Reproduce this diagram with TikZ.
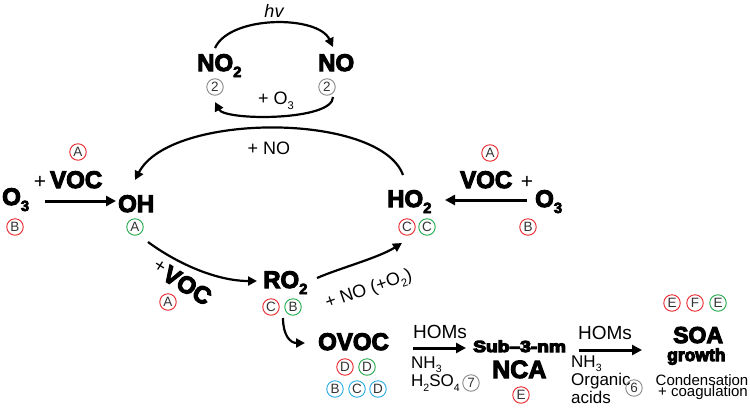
\documentclass[tikz,border=0pt]{standalone}
\usepackage{fontspec}
\usepackage{graphicx}
\setmainfont{Liberation Sans}
\newfontfamily\heavyf{Liberation Sans}
\usetikzlibrary{arrows.meta}
\definecolor{cred}{HTML}{E8262B}
\definecolor{cgreen}{HTML}{22A84A}
\definecolor{cblue}{HTML}{29ABE2}
\definecolor{cgray}{HTML}{8A8A8A}
\newcommand\sbs[1]{\raisebox{-0.25em}{\scalebox{0.62}{#1}}}
\newcommand\fat[1]{\special{pdf:literal direct 2 Tr 1.1 w}#1\special{pdf:literal direct 0 Tr}}
\begin{document}
\begin{tikzpicture}[x=1pt,y=1pt,
  heavy/.style={inner sep=0pt, anchor=base west, font=\heavyf\bfseries\fontsize{24}{24}\selectfont},
  light/.style={inner sep=0pt, font=\fontsize{17}{17}\selectfont},
  leftlight/.style={light, anchor=west},
  cc/.style={circle, draw=#1, line width=0.9pt, minimum size=16.5pt, inner sep=0pt, font=\fontsize{13.5}{13.5}\selectfont, text=black!80},
  arr/.style={line width=2.2pt, -{Triangle[length=9pt,width=9pt]}},
  thickarr/.style={line width=3pt, -{Triangle[length=10pt,width=10pt]}},
]
\useasboundingbox (0,0) rectangle (750,-408);

% NO2 / NO cycle
\node[light, font=\itshape\fontsize{18}{18}\selectfont] (hv) at (274,-11) {hv};
\node[heavy] (no2) at (197,-71) {\fat{NO\sbs{2}}};
\node[heavy] (no) at (318,-71) {\fat{NO}};
\node[cc=cgray] (c2a) at (215,-87) {2};
\node[cc=cgray] (c2b) at (327,-87) {2};
\node[light, font=\fontsize{18}{18}\selectfont] (plo3) at (276,-101) {+ O\sbs{3}};
\coordinate (t1s) at (215,-48);
\coordinate (t1e) at (333,-47);
\coordinate (b1s) at (333,-97);
\coordinate (b1e) at (215,-102);
\draw[arr] (t1s) .. controls (230,-15) and (318,-15) .. (t1e);
\draw[arr] (b1s) .. controls (333,-121) and (225,-121) .. (b1e);

% +NO big arc
\node[light, font=\fontsize{18}{18}\selectfont] (plno) at (269,-148) {+ NO};
\coordinate (bas) at (403,-175);
\coordinate (bae) at (135,-180);
\draw[arr] (bas) .. controls (380,-112) and (170,-112) .. (bae);

% left O3 + VOC -> OH
\node[heavy] (o3l) at (2,-205) {\fat{O\sbs{3}}};
\node[light, font=\fontsize{21}{21}\selectfont] (pl1) at (40,-182) {+};
\node[heavy] (voc1) at (50,-188) {\fat{VOC}};
\node[cc=cred] (cA1) at (78,-152) {A};
\node[cc=cred] (cB1) at (15,-227) {B};
\node[heavy] (oh) at (118,-212) {\fat{OH}};
\node[cc=cgreen] (cA2) at (135,-227) {A};
\coordinate (a1s) at (45,-201);
\coordinate (a1e) at (116,-201);
\draw[thickarr] (a1s) -- (a1e);

% right O3 + VOC -> HO2
\node[heavy] (ho2) at (387,-207) {\fat{HO\sbs{2}}};
\node[cc=cred] (cC1) at (407,-227) {C};
\node[cc=cgreen] (cC2) at (427,-227) {C};
\node[heavy] (voc2) at (460,-188) {\fat{VOC}};
\node[light, font=\fontsize{21}{21}\selectfont] (pl2) at (527,-182) {+};
\node[heavy] (o3r) at (535,-207) {\fat{O\sbs{3}}};
\node[cc=cred] (cA3) at (490,-153) {A};
\node[cc=cred] (cB2) at (528,-227) {B};
\coordinate (a2s) at (527,-200);
\coordinate (a2e) at (445,-200);
\draw[thickarr] (a2s) -- (a2e);

% OH -> RO2
\node[heavy] (ro2) at (263,-288) {\fat{RO\sbs{2}}};
\node[cc=cred] (cC3) at (271,-307) {C};
\node[cc=cgreen] (cB3) at (293,-307) {B};
\node[rotate=-32, inner sep=0pt] (pvoc) at (182,-282) {\raisebox{0.35em}{\fontsize{19}{19}\selectfont +}\,{\heavyf\bfseries\fontsize{24}{24}\selectfont \fat{VOC}}};
\node[cc=cred] (cA4) at (168,-302) {A};
\coordinate (a3s) at (148,-242);
\coordinate (a3e) at (257,-281);
\draw[arr] (a3s) .. controls (175,-262) and (215,-281) .. (a3e);

% RO2 -> HO2
\node[light, rotate=19, font=\fontsize{18}{18}\selectfont] (plno2) at (369,-290) {+ NO (+O\sbs{2})};
\coordinate (a4s) at (317,-278);
\coordinate (a4e) at (402,-243);
\draw[arr] (a4s) .. controls (340,-268) and (378,-258) .. (a4e);

% RO2 -> OVOC
\node[heavy] (ovoc) at (318,-350) {\fat{OVOC}};
\coordinate (a5s) at (283,-318);
\coordinate (a5e) at (305,-343);
\draw[arr] (a5s) .. controls (283,-335) and (290,-343) .. (a5e);
\node[cc=cred] (cD1) at (345,-367) {D};
\node[cc=cgreen] (cD2) at (367,-367) {D};
\node[cc=cblue] (cB4) at (335,-389) {B};
\node[cc=cblue] (cC4) at (357,-389) {C};
\node[cc=cblue] (cD3) at (378,-389) {D};

% OVOC -> NCA
\node[light, font=\fontsize{19}{19}\selectfont] (homs1) at (440,-332) {HOMs};
\node[leftlight] (nh31) at (411,-365) {NH\sbs{3}};
\node[leftlight] (h2so4) at (411,-383) {H\sbs{2}SO\sbs{4}};
\node[cc=cgray] (c7) at (471,-383) {7};
\coordinate (a6s) at (413,-348);
\coordinate (a6e) at (466,-348);
\draw[thickarr] (a6s) -- (a6e);
\node[heavy, font=\heavyf\bfseries\fontsize{16}{16}\selectfont] (sub) at (473,-352) {\scalebox{1.2}[1]{\fat{Sub–3-nm}}};
\node[heavy, font=\heavyf\bfseries\fontsize{25}{25}\selectfont] (nca) at (492,-378) {\fat{NCA}};
\node[cc=cred] (cE1) at (521,-395) {E};

% NCA -> SOA
\node[light, font=\fontsize{19}{19}\selectfont] (homs2) at (605,-333) {HOMs};
\node[leftlight] (nh32) at (571,-364) {NH\sbs{3}};
\node[leftlight] (org) at (571,-381) {Organic};
\node[leftlight] (acids) at (571,-397) {acids};
\node[cc=cgray] (c6) at (634,-388) {6};
\coordinate (a7s) at (579,-350);
\coordinate (a7e) at (642,-350);
\draw[thickarr] (a7s) -- (a7e);
\node[heavy, font=\heavyf\bfseries\fontsize{23}{23}\selectfont] (soa) at (673,-343) {\fat{SOA}};
\node[heavy, font=\heavyf\bfseries\fontsize{17.5}{17.5}\selectfont] (growth) at (667,-361) {\fat{growth}};
\node[light, font=\fontsize{15}{15}\selectfont] (cond) at (702,-380) {Condensation};
\node[light, font=\fontsize{15}{15}\selectfont] (coag) at (703,-393) {+ coagulation};
\node[cc=cred] (cE2) at (672,-303) {E};
\node[cc=cred] (cF) at (695,-303) {F};
\node[cc=cgreen] (cE3) at (718,-303) {E};
\end{tikzpicture}
\end{document}
